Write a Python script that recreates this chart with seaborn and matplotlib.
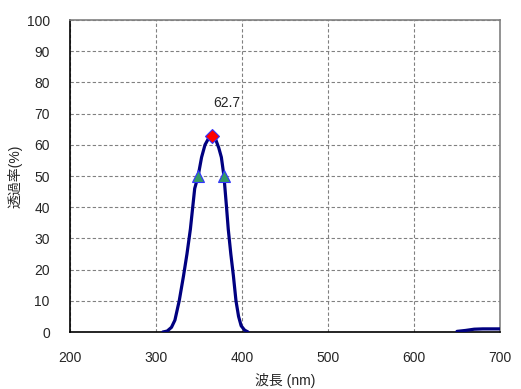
import matplotlib
matplotlib.use("Agg")
import matplotlib.pyplot as plt
import seaborn as sns
import pandas as pd

# Data
peak_nm = [308, 313, 318, 322, 327, 332, 336, 340, 345, 349, 353, 357, 361, 365,
           369, 373, 376, 379, 382, 384, 387, 390, 393, 396, 399, 403, 407]
peak_val = [0, 0.3, 1.5, 3.8, 10, 18, 25, 33, 46, 50, 56, 60, 62, 62.7,
            62, 59, 56, 50, 40, 33, 25, 18, 10, 5, 2, 0.6, 0]
tail_nm = [650, 660, 670, 680, 690, 700]
tail_val = [0.2, 0.5, 0.9, 1.0, 1.0, 1.0]
peak_point = (365, 62.7)
half_points_nm = [349, 379]
half_points_val = [50, 50]
x_ticks = [200, 300, 400, 500, 600, 700]
y_ticks = [0, 10, 20, 30, 40, 50, 60, 70, 80, 90, 100]

sns.set_style("white")
plt.rcParams['font.family'] = ['Liberation Sans', 'Noto Sans CJK JP', 'DejaVu Sans']

fig = plt.figure(figsize=(5.21, 3.89), dpi=100)
ax = fig.add_axes([70/521, 1-332/389, 430/521, 312/389])

navy = "#000080"
df1 = pd.DataFrame({"nm": peak_nm, "val": peak_val})
df2 = pd.DataFrame({"nm": tail_nm, "val": tail_val})
sns.lineplot(data=df1, x="nm", y="val", ax=ax, color=navy, lw=2.3, zorder=3)
sns.lineplot(data=df2, x="nm", y="val", ax=ax, color=navy, lw=2.3, zorder=3)

ax.plot(half_points_nm, half_points_val, ls="none", marker="^", ms=8,
        mfc="#339966", mec="#3333ff", mew=0.8, zorder=4)
ax.plot([peak_point[0]], [peak_point[1]], ls="none", marker="D", ms=7.5,
        mfc="#ff0000", mec="#3333ff", mew=0.8, zorder=5)
ax.annotate(f"{peak_point[1]}", xy=peak_point, xytext=(15, 33),
            textcoords="offset pixels", ha="center", va="center", fontsize=10)

ax.set_xlim(200, 700)
ax.set_ylim(0, 100)
ax.set_xticks(x_ticks)
ax.set_yticks(y_ticks)
ax.tick_params(direction="in", length=4, width=0.8, labelsize=10, color="black")
ax.tick_params(axis="y", pad=14.5)
ax.tick_params(axis="x", pad=13.5)
ax.grid(True, color="#808080", ls=(0, (3, 2)), lw=0.8)
ax.set_axisbelow(True)

for s in ["left", "bottom"]:
    ax.spines[s].set_color("black")
    ax.spines[s].set_linewidth(1.2)
for s in ["top", "right"]:
    ax.spines[s].set_color("#808080")
    ax.spines[s].set_linewidth(1.2)

ax.set_xlabel("波長 (nm)", fontsize=10, labelpad=6)
ax.set_ylabel("透過率(%)", fontsize=10, labelpad=3)

fig.savefig("out.png", dpi=100)
